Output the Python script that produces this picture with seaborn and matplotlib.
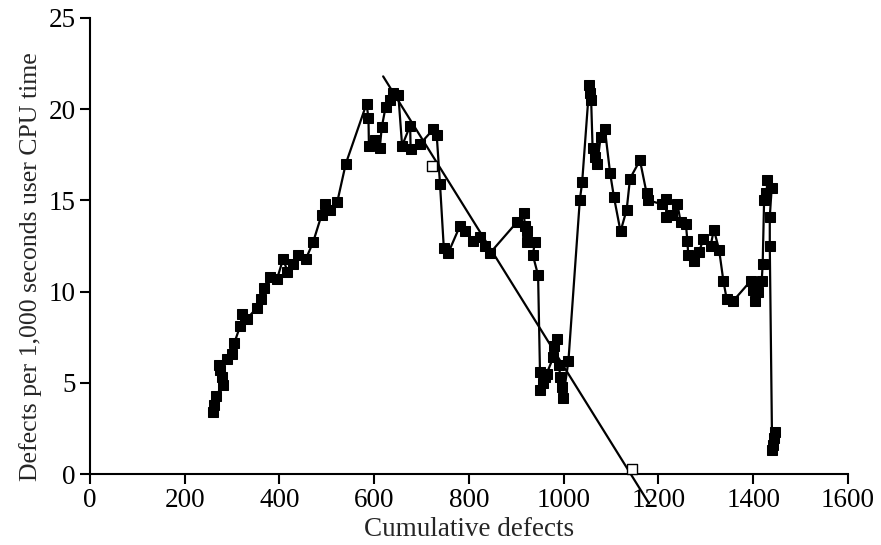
import matplotlib
matplotlib.use("Agg")
import matplotlib.pyplot as plt
import seaborn as sns
import pandas as pd

# Main series: cumulative defects vs defects per 1,000 s user CPU time
cum_defects = [259, 262, 267, 280, 278, 274, 273, 289, 299, 305, 317, 322, 331, 352, 362, 368,
               381, 395, 408, 417, 428, 440, 456, 471, 489, 496, 507, 522, 540, 584, 588, 589,
               602, 612, 616, 624, 633, 640, 651, 659, 676, 677, 697, 725, 732, 739, 747, 756,
               781, 792, 809, 823, 834, 844, 901, 916, 918, 923, 922, 939, 935, 946, 950, 950,
               957, 960, 964, 978, 986, 980, 991, 992, 996, 999, 1010, 1034, 1039, 1054, 1055, 1058,
               1061, 1066, 1071, 1078, 1087, 1098, 1106, 1120, 1133, 1140, 1161, 1175, 1179, 1207,
               1217, 1216, 1228, 1240, 1247, 1258, 1261, 1263, 1275, 1286, 1295, 1310, 1317, 1328,
               1337, 1344, 1358, 1395, 1400, 1404, 1411, 1418, 1420, 1423, 1428, 1430, 1439, 1435,
               1435, 1440, 1442, 1444, 1446]
defect_rate = [3.4, 3.8, 4.3, 4.9, 5.3, 5.7, 6.0, 6.3, 6.6, 7.2, 8.1, 8.8, 8.5, 9.1, 9.6, 10.2,
               10.8, 10.7, 11.8, 11.1, 11.5, 12.0, 11.8, 12.7, 14.2, 14.8, 14.5, 14.9, 17.0, 20.3, 19.5, 18.0,
               18.3, 17.9, 19.0, 20.1, 20.5, 20.9, 20.8, 18.0, 19.1, 17.8, 18.1, 18.9, 18.6, 15.9, 12.4, 12.1,
               13.6, 13.3, 12.8, 13.0, 12.5, 12.1, 13.8, 14.3, 13.6, 13.3, 12.7, 12.7, 12.0, 10.9, 5.6, 4.6,
               5.0, 5.3, 5.5, 6.4, 7.4, 7.0, 6.0, 5.3, 4.8, 4.2, 6.2, 15.0, 16.0, 21.3, 20.9, 20.5,
               17.9, 17.4, 17.0, 18.5, 18.9, 16.5, 15.2, 13.3, 14.5, 16.2, 17.2, 15.4, 15.0, 14.8,
               15.1, 14.1, 14.2, 14.8, 13.8, 13.7, 12.8, 12.0, 11.7, 12.2, 12.9, 12.5, 13.4, 12.3,
               10.6, 9.6, 9.5, 10.6, 10.1, 9.5, 10.0, 10.6, 11.5, 15.0, 15.4, 16.1, 15.7, 14.1,
               12.5, 1.3, 1.6, 2.0, 2.3]

# Fitted trend line and its two hollow marker points
trend_x = [619, 1180]
trend_y = [21.8, -1.6]
hollow_x = [722, 1144]
hollow_y = [16.9, 0.3]

x_ticks = [0, 200, 400, 600, 800, 1000, 1200, 1400, 1600]
y_ticks = [0, 5, 10, 15, 20, 25]

sns.set_theme(style="ticks")
plt.rcParams['font.family'] = ['Liberation Serif', 'DejaVu Serif']

df = pd.DataFrame({"x": cum_defects, "y": defect_rate})

fig = plt.figure(figsize=(8.81, 5.45), dpi=100)
ax = fig.add_axes([0.102, 0.130, 0.8605, 0.837])

sns.lineplot(data=df, x="x", y="y", sort=False, estimator=None, ax=ax,
             color="black", linewidth=1.6, marker="s", markersize=6.5,
             markerfacecolor="black", markeredgecolor="black")

ax.plot(trend_x, trend_y, color="black", linewidth=1.6, clip_on=False, zorder=3)
ax.scatter(hollow_x, hollow_y, marker="s", s=45, facecolor="white",
           edgecolor="black", linewidth=1.0, zorder=4, clip_on=False)

ax.set_xlim(0, 1600)
ax.set_ylim(0, 25)
ax.set_xticks(x_ticks)
ax.set_yticks(y_ticks)
ax.set_xlabel("Cumulative defects", fontsize=19.5)
ax.set_ylabel("Defects per 1,000 seconds user CPU time", fontsize=18.5)
ax.xaxis.set_label_coords(0.50, -0.095)
ax.yaxis.set_label_coords(-0.063, 0.454)
ax.tick_params(axis="both", labelsize=19.5, direction="out", length=7, width=1.5,
               color="black", labelcolor="black", pad=3)
for side in ["top", "right"]:
    ax.spines[side].set_visible(False)
for side in ["left", "bottom"]:
    ax.spines[side].set_linewidth(1.5)
    ax.spines[side].set_color("black")

fig.savefig("out.png", dpi=100, facecolor="white")
